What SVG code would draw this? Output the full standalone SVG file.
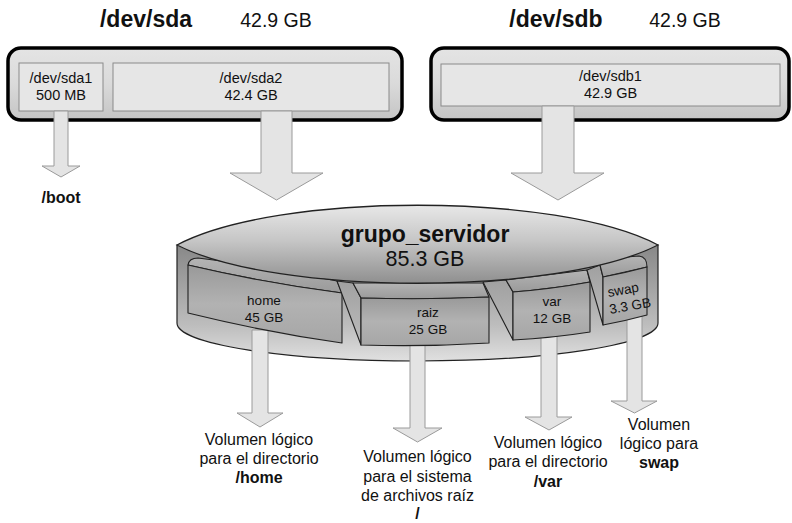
<svg xmlns="http://www.w3.org/2000/svg" width="792" height="523" viewBox="0 0 792 523">
<defs>
<linearGradient id="gDisk" x1="0" y1="0" x2="0" y2="1">
<stop offset="0" stop-color="#e4e4e4"/><stop offset="0.5" stop-color="#dadada"/><stop offset="1" stop-color="#c4c4c4"/>
</linearGradient>
<linearGradient id="gBody" gradientUnits="userSpaceOnUse" x1="0" y1="245" x2="0" y2="361">
<stop offset="0" stop-color="#888"/><stop offset="0.35" stop-color="#a2a2a2"/><stop offset="0.7" stop-color="#bebebe"/><stop offset="1" stop-color="#e0e0e0"/>
</linearGradient>
<linearGradient id="gLens" gradientUnits="userSpaceOnUse" x1="0" y1="205" x2="0" y2="284">
<stop offset="0" stop-color="#e8e8e8"/><stop offset="0.45" stop-color="#c6c6c6"/><stop offset="1" stop-color="#8e8e8e"/>
</linearGradient>
<linearGradient id="gFace" x1="0" y1="0" x2="0" y2="1">
<stop offset="0" stop-color="#999"/><stop offset="0.5" stop-color="#b2b2b2"/><stop offset="1" stop-color="#a6a6a6"/>
</linearGradient>
<linearGradient id="gCap" x1="0" y1="0" x2="0" y2="1">
<stop offset="0" stop-color="#b4b4b4"/><stop offset="1" stop-color="#9a9a9a"/>
</linearGradient>
<linearGradient id="gSide" x1="0" y1="0" x2="0" y2="1">
<stop offset="0" stop-color="#a0a0a0"/><stop offset="1" stop-color="#bdbdbd"/>
</linearGradient>
</defs>
<style>
.disk{fill:url(#gDisk);stroke:#000;stroke-width:3.5}
.part{fill:#e6e6e6;stroke:#8a8a8a;stroke-width:1}
.arrow{fill:#e4e4e4;stroke:#9a9a9a;stroke-width:1}
.vol{stroke:#222;stroke-width:1.1;stroke-linejoin:round}
.face{fill:url(#gFace)}
.cap{fill:url(#gCap)}
.side{fill:url(#gSide)}
text{font-family:"Liberation Sans",Arial,sans-serif;fill:#111;text-anchor:middle}
.hdr{font-size:23px;font-weight:bold}
.hsz{font-size:19.5px}
.pt{font-size:14.5px}
.vt{font-size:13.5px}
.lbl{font-size:16px}
.b{font-weight:bold}
</style>

<g id="disk-sda">
<text class="hdr" x="146" y="27">/dev/sda</text>
<text class="hsz" x="276" y="27">42.9 GB</text>
<rect class="disk" x="8" y="48" width="394" height="72" rx="13"/>
</g>
<g id="part-sda1">
<rect class="part" x="19" y="63" width="84" height="48"/>
<text class="pt" x="61" y="83">/dev/sda1</text>
<text class="pt" x="61" y="100">500 MB</text>
</g>
<g id="part-sda2">
<rect class="part" x="113" y="63" width="276" height="48"/>
<text class="pt" x="251" y="83">/dev/sda2</text>
<text class="pt" x="251" y="100">42.4 GB</text>
</g>

<g id="disk-sdb">
<text class="hdr" x="556" y="27">/dev/sdb</text>
<text class="hsz" x="685" y="27">42.9 GB</text>
<rect class="disk" x="431" y="48" width="358" height="72" rx="13"/>
</g>
<g id="part-sdb1">
<rect class="part" x="441" y="64" width="339" height="42"/>
<text class="pt" x="610.5" y="81">/dev/sdb1</text>
<text class="pt" x="610.5" y="98">42.9 GB</text>
</g>

<g id="connectors-top">
<polygon class="arrow" points="54,111 68,111 68,166 80,166 61,177 42,166 54,166"/>
<polygon class="arrow" points="261,111 292,111 292,173 323,173 276.5,200 230,173 261,173"/>
<polygon class="arrow" points="542,106 574,106 574,173 604,173 558,200 511,173 542,173"/>
</g>

<g id="boot">
<text class="lbl b" x="61" y="203">/boot</text>
</g>

<g id="vg-body">
<path d="M177,245 L177,323 A240.5,38 0 0 0 658,323 L658,245 Z" fill="url(#gBody)" stroke="#222" stroke-width="1.2"/>
</g>

<g id="connectors-bottom">
<polygon class="arrow" points="252,330 268,330 268,413 283,413 260,427 237,413 252,413"/>
<polygon class="arrow" points="410,330 425,330 425,428 442,428 417.5,442 393,428 410,428"/>
<polygon class="arrow" points="541,320 557,320 557,417 572,417 549,430 525,417 541,417"/>
<polygon class="arrow" points="627,305 642,305 642,401 657,401 634.5,413 611,401 627,401"/>
</g>

<g id="lv-home">
<path class="vol cap" d="M188,265 Q189,258 198,258 L260,266 L337,281 L342,293 Q265,283 188,265 Z"/>
<path class="vol face" d="M188,265 Q265,283 342,293 L342,343 Q265,332 188,313 Z"/>
<text class="vt" x="264" y="305">home</text>
<text class="vt" x="264" y="322">45 GB</text>
</g>

<g id="lv-raiz">
<path class="vol side" d="M337,281 L353,283 L361,298 L361,345 Z"/>
<path class="vol cap" d="M353,283 L483,283 L489,297 Q425,300 361,298 Z"/>
<path class="vol face" d="M361,298 Q425,300 489,297 L489,343 Q425,347 361,345 Z"/>
<text class="vt" x="428" y="317">raiz</text>
<text class="vt" x="428" y="334">25 GB</text>
</g>

<g id="lv-var">
<path class="vol side" d="M483,282 L506,280 L513,292 L513,340 Z"/>
<path class="vol cap" d="M506,280 L587,270 L590,282 Q552,289 513,292 Z"/>
<path class="vol face" d="M513,292 Q552,289 590,282 L590,332 Q552,338 513,340 Z"/>
<text class="vt" x="552" y="306">var</text>
<text class="vt" x="552" y="323">12 GB</text>
</g>

<g id="lv-swap">
<path class="vol side" d="M587,270 L600,265 L603,277 L603,325 Z"/>
<path class="vol cap" d="M600,265 Q601,258 614,258 L639,256 Q647,257 647,267 Q625,272 603,277 Z"/>
<path class="vol face" d="M603,277 Q625,273 647,267 L647,315 Q625,321 603,325 Z"/>
<g transform="rotate(-10 626 300)">
<text class="vt" x="625" y="294">swap</text>
<text class="vt" x="629" y="311">3.3 GB</text>
</g>
</g>

<g id="vg-top">
<path d="M177,245 C277,192 558,192 658,245 C558,296 277,296 177,245 Z" fill="url(#gLens)" stroke="#222" stroke-width="1.3"/>
<text x="425" y="242" style="font-size:23px;font-weight:bold">grupo_servidor</text>
<text x="425" y="266" style="font-size:21.5px">85.3 GB</text>
</g>

<g id="label-home">
<text class="lbl" x="259" y="445">Volumen lógico</text>
<text class="lbl" x="259" y="464">para el directorio</text>
<text class="lbl b" x="259" y="483">/home</text>
</g>
<g id="label-raiz">
<text class="lbl" x="417.5" y="462">Volumen lógico</text>
<text class="lbl" x="417.5" y="481.5">para el sistema</text>
<text class="lbl" x="417.5" y="501">de archivos raíz</text>
<text class="lbl b" x="417.5" y="519">/</text>
</g>
<g id="label-var">
<text class="lbl" x="548" y="448">Volumen lógico</text>
<text class="lbl" x="548" y="467">para el directorio</text>
<text class="lbl b" x="548" y="487">/var</text>
</g>
<g id="label-swap">
<text class="lbl" x="659" y="430">Volumen</text>
<text class="lbl" x="659" y="449">lógico para</text>
<text class="lbl b" x="659" y="468">swap</text>
</g>
</svg>
